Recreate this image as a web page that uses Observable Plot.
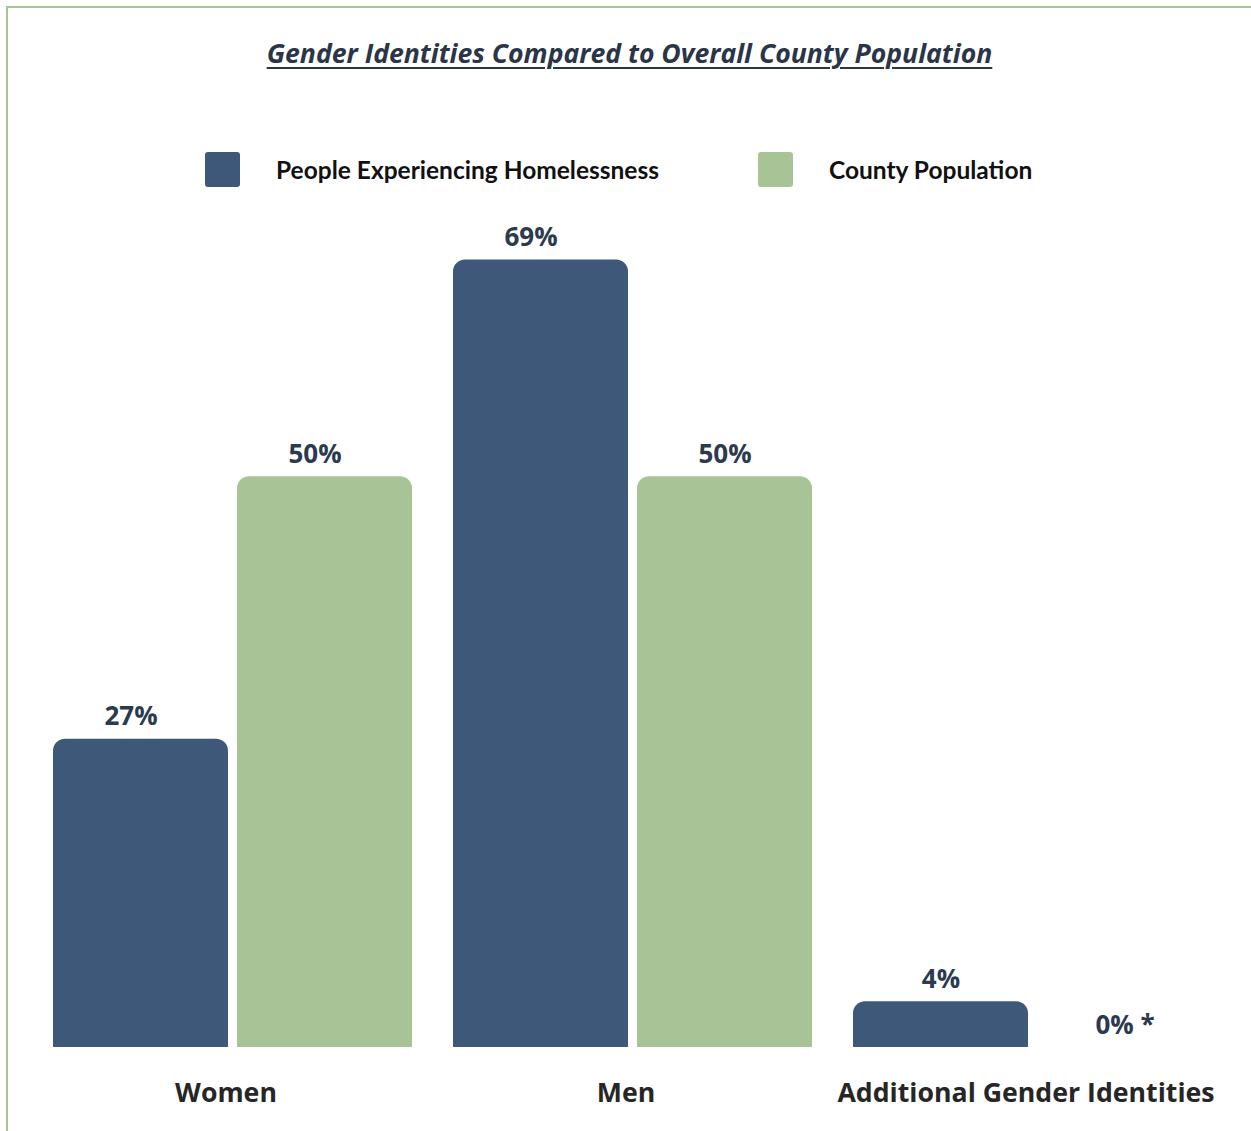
<!DOCTYPE html>
<html><head><meta charset="utf-8">
<script src="https://cdn.jsdelivr.net/npm/d3@7"></script>
<script src="https://cdn.jsdelivr.net/npm/@observablehq/plot@0.6"></script>
<style>
body{margin:0;background:#fff;}
#page{position:relative;width:1251px;height:1131px;overflow:hidden;background:#fff;}
#frame{position:absolute;left:6px;top:6px;width:1300px;height:1200px;border-top:2px solid #a8c497;border-left:2px solid #a8c497;box-sizing:border-box;}
#title{position:absolute;top:35px;left:0;width:1259px;text-align:center;font-family:"Open Sans",sans-serif;font-weight:700;font-style:italic;font-size:26.6px;color:#2b3548;text-decoration:underline;text-decoration-thickness:2px;text-underline-offset:4px;}
#legend{position:absolute;top:152px;left:0;width:1251px;height:36px;font-family:Lato,"Open Sans",sans-serif;font-weight:700;font-size:24.5px;color:#111;}
.sw{position:absolute;top:0;width:35px;height:35px;border-radius:3px;}
.lt{position:absolute;top:0;line-height:35px;white-space:nowrap;}
#chart{position:absolute;left:0;top:200px;}
</style></head>
<body><div id="page"><div id="frame"></div><div id="title"></div><div id="legend"></div><div id="chart"></div></div>
<script>
const title = "Gender Identities Compared to Overall County Population";
const groups = ["Women", "Men", "Additional Gender Identities"];
const seriesNames = ["People Experiencing Homelessness", "County Population"];
const homeless = [27, 69, 4];
const county = [50, 50, 0];
const homelessLabels = ["27%", "69%", "4%"];
const countyLabels = ["50%", "50%", "0% *"];
const colors = ["#3e5879", "#a8c497"];

document.getElementById("title").textContent = title;

const legend = document.getElementById("legend");
const legendPos = [[205, 276], [758, 829]];
seriesNames.forEach((s, i) => {
  const sw = document.createElement("div");
  sw.className = "sw"; sw.style.left = legendPos[i][0] + "px"; sw.style.background = colors[i];
  const t = document.createElement("div");
  t.className = "lt"; t.style.left = legendPos[i][1] + "px"; t.textContent = s;
  legend.appendChild(sw); legend.appendChild(t);
});

const data = [];
groups.forEach((g, i) => {
  data.push({group: g, series: seriesNames[0], value: homeless[i], label: homelessLabels[i]});
  data.push({group: g, series: seriesNames[1], value: county[i], label: countyLabels[i]});
});

const shifted = d => d.value >= 10 && !(d.group === groups[1] && d.series === seriesNames[1]);
const textOpts = {fontSize: 26, fontWeight: 700, fontFamily: "'Open Sans', sans-serif", fill: "#2b3a4e", lineAnchor: "bottom"};

const chart = Plot.plot({
  width: 1251,
  height: 931,
  marginLeft: 53,
  marginRight: 39,
  marginTop: 48,
  marginBottom: 84,
  style: {background: "transparent", overflow: "visible"},
  fx: {domain: groups, paddingInner: 0.1025, paddingOuter: 0, label: null, axis: null},
  x: {domain: seriesNames, paddingInner: 0.049, paddingOuter: 0, axis: null},
  y: {domain: [0, 70], axis: null},
  color: {domain: seriesNames, range: colors},
  marks: [
    Plot.barY(data, {fx: "group", x: "series", y: "value", fill: "series", rx: 12, insetBottom: -30, clip: true}),
    Plot.text(data.filter(shifted), {fx: "group", x: "series", y: "value", text: "label", dy: -14, dx: -10, ...textOpts}),
    Plot.text(data.filter(d => !shifted(d)), {fx: "group", x: "series", y: "value", text: "label", dy: -14, ...textOpts}),
    Plot.axisFx({anchor: "bottom", tickSize: 0, tickPadding: 36, dx: -7, fontSize: 26.7, fontWeight: 700, fontFamily: "'Open Sans', sans-serif", fill: "#262626", label: null})
  ]
});
document.getElementById("chart").appendChild(chart);
</script></body></html>
